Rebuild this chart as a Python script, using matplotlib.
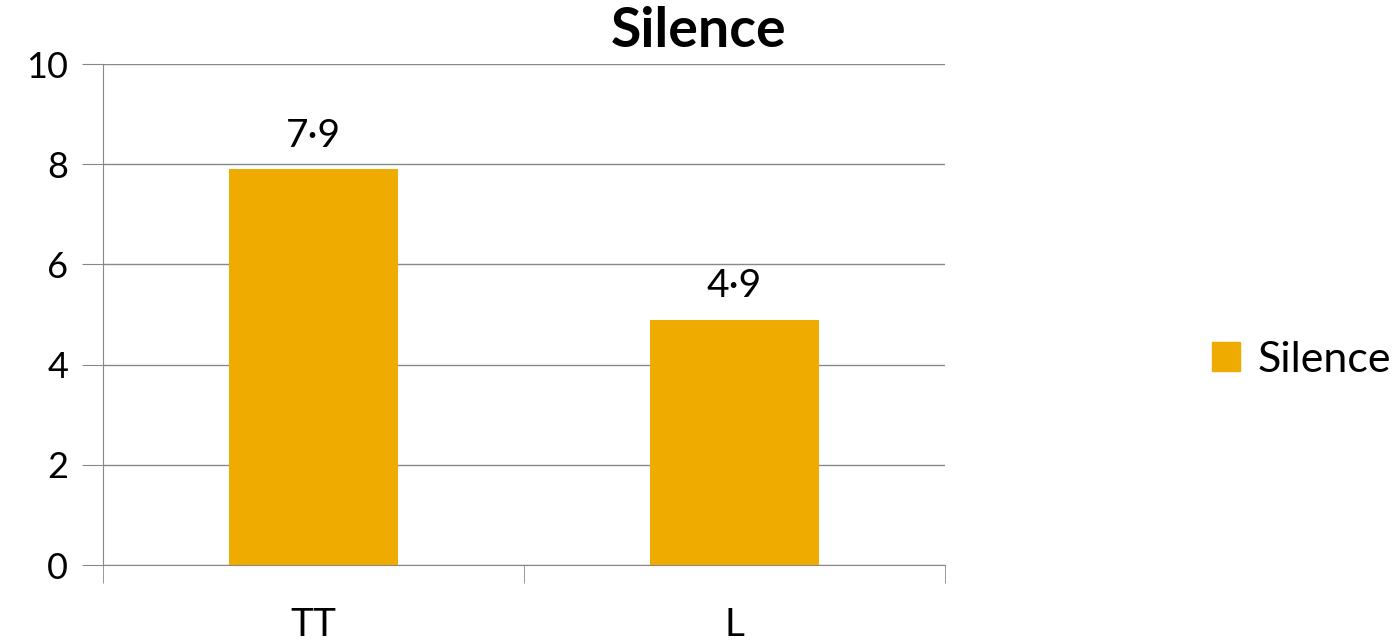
import matplotlib.pyplot as plt
from matplotlib.patches import Patch

categories = ['TT', 'L']
values = [7.9, 4.9]
labels = ['7·9', '4·9']
series = 'Silence'
color = '#F0AB00'

plt.rcParams['font.family'] = ['Lato', 'DejaVu Sans']

fig = plt.figure(figsize=(13.97, 6.42), dpi=100)
ax = fig.add_axes([0.0737, 0.1199, 0.6028, 0.7804])

x = list(range(len(categories)))
ax.bar(x, values, width=0.4, color=color, zorder=3)
for xi, v, lab in zip(x, values, labels):
    ax.text(xi, v + 0.3, lab, ha='center', va='bottom', fontsize=28)

ax.set_xlim(-0.5, len(categories) - 0.5)
ax.set_ylim(0, 10)
ax.set_yticks(range(0, 11, 2))
ax.tick_params(axis='y', length=15, color='#888888', labelsize=26, pad=10)
ax.set_xticks(x)
ax.set_xticklabels(categories)
ax.tick_params(axis='x', which='major', length=0, labelsize=28, pad=30)
ax.set_xticks([-0.5, 0.5, 1.5], minor=True)
ax.tick_params(axis='x', which='minor', length=13, color='#888888')
ax.grid(axis='y', color='#888888', linewidth=1, zorder=0)
for s in ['top', 'right']:
    ax.spines[s].set_visible(False)
for s in ['left', 'bottom']:
    ax.spines[s].set_color('#888888')

fig.suptitle(series, fontsize=40, fontweight='bold', y=0.99)

handles = [Patch(color=color, label=series)]
fig.legend(handles=handles, loc='center left', bbox_to_anchor=(0.84, 0.44),
           frameon=False, fontsize=31, handlelength=0.65, handleheight=0.65,
           handletextpad=0.4)

fig.savefig('out.png', dpi=100)
